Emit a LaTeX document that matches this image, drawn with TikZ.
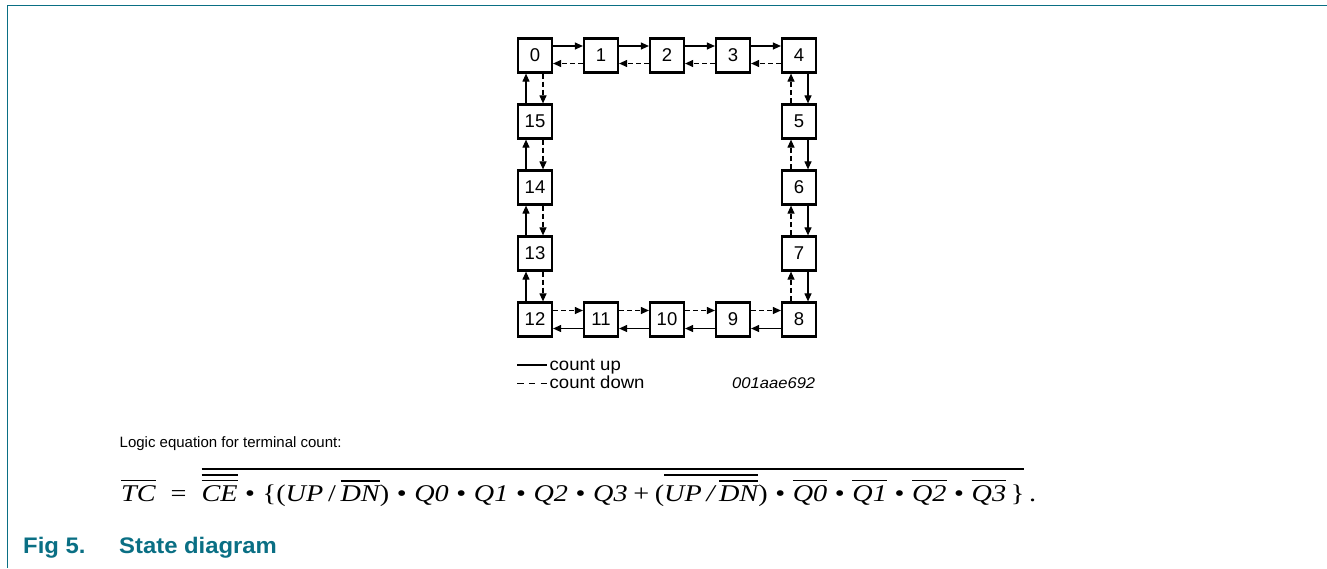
\documentclass[tikz,border=0pt]{standalone}
\usepackage{fontspec}
\usepackage{graphicx}
\setmainfont{Liberation Sans}
\newfontfamily\tms{Liberation Serif}
\usetikzlibrary{arrows.meta}
\definecolor{nxpteal}{HTML}{0A6F84}
\newcommand\ovl[1]{\vbox{\hrule height 1.6pt\kern 4.2pt\hbox{#1}}}
\newcommand\bul{\hspace{0.27em}•\hspace{0.27em}}
\begin{document}
\begin{tikzpicture}[x=1pt,y=-1pt,
  stbox/.style={draw,line width=2.2pt,minimum size=34pt,inner sep=0pt,font=\fontsize{18.5}{20}\selectfont},
  arr/.style={line width=1.1pt,-{Triangle[length=8pt,width=7pt]}},
  dsh/.style={arr,dash pattern=on 5pt off 3pt},
  txt/.style={inner sep=0pt,anchor=base west}]
\useasboundingbox (0,0) rectangle (1327,568);
\draw[nxpteal,line width=1.4pt] (1327,5.3) -- (7.3,5.3) -- (7.3,568);
% boxes
\foreach \n/\x/\y in {0/535/55.5,1/601/55.5,2/667/55.5,3/733/55.5,4/799/55.5,
  5/799/121.5,6/799/187.5,7/799/253.5,8/799/319.5,
  9/733/319.5,10/667/319.5,11/601/319.5,12/535/319.5,
  13/535/253.5,14/535/187.5,15/535/121.5}
  \node[stbox] (s\n) at (\x,\y) {\n};
% top row
\foreach \a/\b in {0/1,1/2,2/3,3/4}{
  \draw[arr] ([yshift=9.5pt]s\a.east) -- ([yshift=9.5pt]s\b.west);
  \draw[dsh] ([yshift=-8pt]s\b.west) -- ([yshift=-8pt]s\a.east);
}
% right column
\foreach \a/\b in {4/5,5/6,6/7,7/8}{
  \draw[arr] ([xshift=9pt]s\a.south) -- ([xshift=9pt]s\b.north);
  \draw[dsh] ([xshift=-8pt]s\b.north) -- ([xshift=-8pt]s\a.south);
}
% bottom row
\foreach \a/\b in {8/9,9/10,10/11,11/12}{
  \draw[arr] ([yshift=-9pt]s\a.west) -- ([yshift=-9pt]s\b.east);
  \draw[dsh] ([yshift=9pt]s\b.east) -- ([yshift=9pt]s\a.west);
}
% left column
\foreach \a/\b in {12/13,13/14,14/15,15/0}{
  \draw[arr] ([xshift=-9pt]s\a.north) -- ([xshift=-9pt]s\b.south);
  \draw[dsh] ([xshift=8pt]s\b.south) -- ([xshift=8pt]s\a.north);
}
% legend
\coordinate (l1a) at (517,365); \coordinate (l1b) at (547,365);
\coordinate (l2a) at (517,383.3); \coordinate (l2b) at (547,383.3);
\draw[line width=1.1pt] (l1a) -- (l1b);
\draw[line width=1.1pt,dash pattern=on 6.5pt off 5.25pt] (l2a) -- (l2b);
\node[txt,font=\fontsize{17.5}{20}\selectfont] (lu) at (549.5,370.5) {\scalebox{1.06}[1]{count up}};
\node[txt,font=\fontsize{17.5}{20}\selectfont] (ld) at (549.5,388.8) {\scalebox{1.06}[1]{count down}};
\node[txt,font=\fontsize{15.5}{18}\selectfont\itshape] (code) at (732,388.8) {\scalebox{1.07}[1]{001aae692}};
% equation
\node[txt,font=\fontsize{15}{18}\selectfont] (logic) at (119.5,447.5) {Logic equation for terminal count:};
\node[txt,font=\tms\fontsize{24}{28}\selectfont] (eq) at (121,501.5) {\scalebox{1.176}[1]{%
\ovl{\itshape TC}\hspace{0.53em}=\hspace{0.53em}%
\ovl{\ovl{\ovl{\itshape CE}}\bul\{(\textit{UP}\,/\,\ovl{\itshape DN})\bul\textit{Q0}\bul\textit{Q1}\bul\textit{Q2}\bul\textit{Q3}\hspace{0.2em}+\hspace{0.2em}(\ovl{\itshape UP\,/\,\ovl{DN}})\bul\ovl{\itshape Q0}\bul\ovl{\itshape Q1}\bul\ovl{\itshape Q2}\bul\ovl{\itshape Q3}\,\}}\,.}};
% caption
\node[txt,font=\fontsize{22.5}{26}\selectfont\bfseries,text=nxpteal] (fig) at (23,553.5) {\scalebox{1.06}[1]{Fig 5.}};
\node[txt,font=\fontsize{22.5}{26}\selectfont\bfseries,text=nxpteal] (cap) at (119,553.5) {\scalebox{1.06}[1]{State diagram}};
\end{tikzpicture}
\end{document}
